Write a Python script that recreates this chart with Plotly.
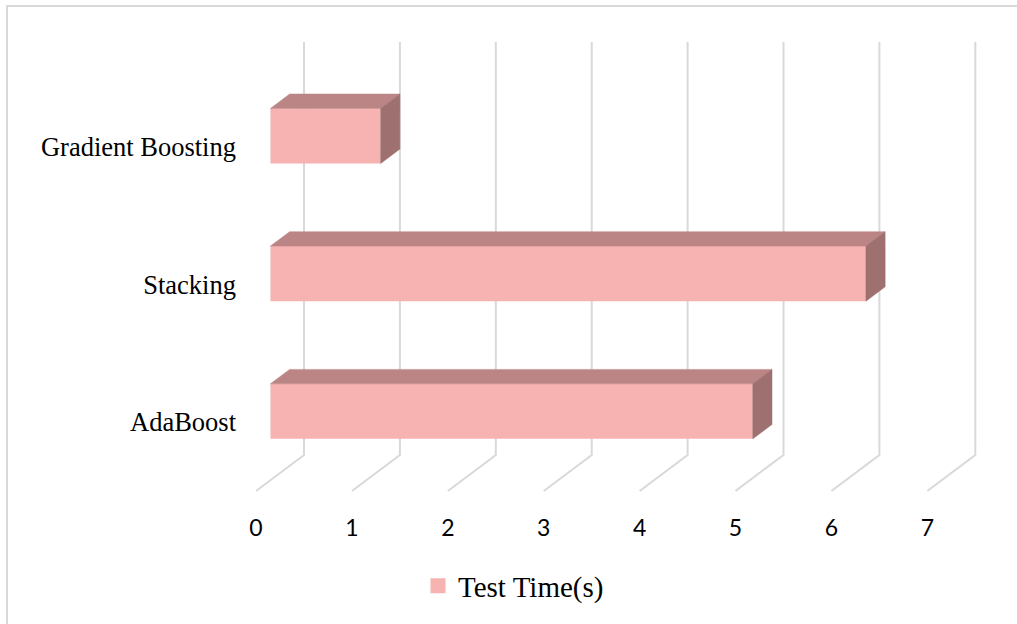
import plotly.graph_objects as go

# ---- data -------------------------------------------------------------
categories = ["AdaBoost", "Stacking", "Gradient Boosting"]
test_time = [5.03, 6.21, 1.15]
value_ticks = [0, 1, 2, 3, 4, 5, 6, 7]
series_name = "Test Time(s)"

# ---- look & geometry --------------------------------------------------
FRONT = "#F7B2B2"
TOP = "#BC8585"
SIDE = "#9E7070"
GRID = "#D9D9D9"

W, H = 1017, 624
M_L, M_R, M_T, M_B = 245, 17, 30, 119
X_RANGE = [-0.115, 7.758]
Y_RANGE = [-0.102, 3.348]

# oblique projection: full depth shifts right by DX (value units)
# and up by DY (category units)
DX, DY = 0.5005, 0.2614
D0, D1 = 0.3, 0.7          # depth span of the bars
B0, B1 = 0.3, 0.7          # bar thickness inside each category band
N_CAT = len(categories)


def proj(v, c, d):
    return v + DX * d, c + DY * d


fig = go.Figure()

# 3-D frame: floor diagonals + back-wall verticals for each value tick
shapes = []
for t in value_ticks:
    pts = [proj(t, 0, 0), proj(t, 0, 1), proj(t, N_CAT, 1)]
    path = "M " + " L ".join(f"{x},{y}" for x, y in pts)
    shapes.append(dict(type="path", path=path, xref="x", yref="y",
                       line=dict(color=GRID, width=2), layer="below"))

# front faces of the bars
fig.add_trace(go.Bar(
    orientation="h",
    y=[i + (B0 + B1) / 2 + DY * D0 for i in range(N_CAT)],
    x=test_time,
    base=DX * D0,
    width=B1 - B0,
    marker=dict(color=FRONT, line=dict(width=0)),
    showlegend=False,
    hoverinfo="skip",
))

# top and side faces
for i, v in enumerate(test_time):
    top = [proj(0, i + B1, D0), proj(v, i + B1, D0),
           proj(v, i + B1, D1), proj(0, i + B1, D1)]
    side = [proj(v, i + B0, D0), proj(v, i + B1, D0),
            proj(v, i + B1, D1), proj(v, i + B0, D1)]
    for poly, col in ((top, TOP), (side, SIDE)):
        xs = [p[0] for p in poly] + [poly[0][0]]
        ys = [p[1] for p in poly] + [poly[0][1]]
        fig.add_trace(go.Scatter(
            x=xs, y=ys, mode="lines", fill="toself", fillcolor=col,
            line=dict(color=col, width=0.5), showlegend=False,
            hoverinfo="skip",
        ))

# legend entry
fig.add_trace(go.Scatter(
    x=[None], y=[None], mode="markers", name=series_name,
    marker=dict(symbol="square", size=15, color=FRONT),
))

# outer chart border
pw = W - M_L - M_R
ph = H - M_T - M_B
shapes.append(dict(
    type="rect", xref="paper", yref="paper",
    x0=(7 - M_L) / pw, x1=(W + 20 - M_L) / pw,
    y0=-(H + 20 - (H - M_B)) / ph, y1=((H - M_B) - 6) / ph,
    line=dict(color=GRID, width=2), fillcolor="rgba(0,0,0,0)",
))

fig.update_layout(
    width=W, height=H,
    margin=dict(l=M_L, r=M_R, t=M_T, b=M_B),
    paper_bgcolor="white", plot_bgcolor="white",
    shapes=shapes,
    showlegend=True,
    legend=dict(
        orientation="h", x=(418 - M_L) / pw, xanchor="left",
        y=-(586 - (H - M_B)) / ph, yanchor="middle",
        font=dict(family="Liberation Serif", size=29, color="black"),
        bgcolor="rgba(0,0,0,0)", itemsizing="trace",
    ),
    xaxis=dict(
        range=X_RANGE, tickvals=value_ticks,
        ticktext=[str(t) for t in value_ticks],
        showgrid=False, zeroline=False, showline=False, ticks="",
        tickfont=dict(family="Lato", size=23, color="black"),
        ticklabelstandoff=7,
        fixedrange=True,
    ),
    yaxis=dict(
        range=Y_RANGE, tickvals=[i + 0.5 for i in range(N_CAT)],
        ticktext=categories,
        showgrid=False, zeroline=False, showline=False, ticks="",
        tickfont=dict(family="Liberation Serif", size=26.5, color="black"),
        ticklabelstandoff=8,
        fixedrange=True,
    ),
)

fig.write_html("out.html")
